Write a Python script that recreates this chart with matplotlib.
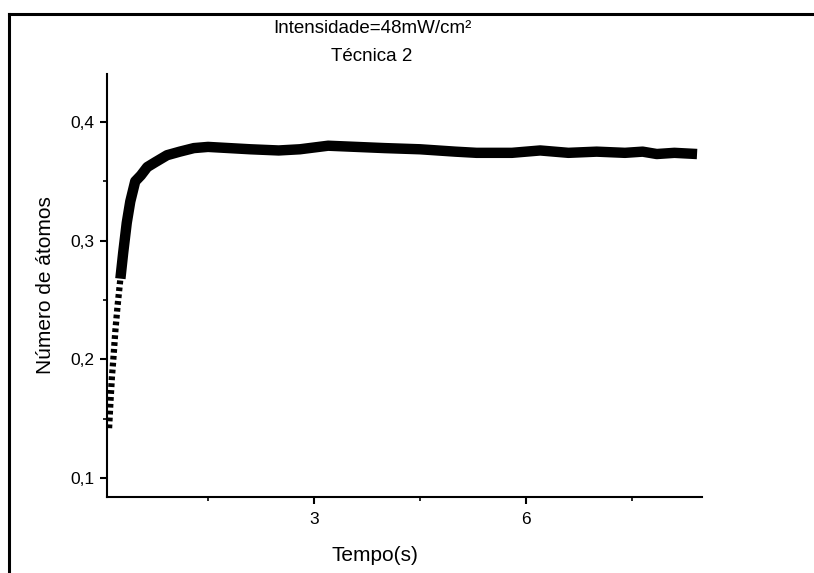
import matplotlib
matplotlib.use("Agg")
import matplotlib.pyplot as plt
from matplotlib.lines import Line2D
from matplotlib.ticker import MultipleLocator, FuncFormatter

plt.rcParams['font.family'] = ['Liberation Sans', 'DejaVu Sans']

# Loading curve: number of atoms vs time
tempo = [0.10, 0.12, 0.14, 0.16, 0.19, 0.22, 0.26, 0.30, 0.35, 0.40,
         0.47, 0.55, 0.64, 0.75, 0.92, 1.10, 1.30, 1.50, 1.80, 2.10,
         2.50, 2.80, 3.20, 3.60, 4.00, 4.50, 5.00, 5.30, 5.80, 6.20,
         6.60, 7.00, 7.40, 7.65, 7.85, 8.10, 8.42]
atomos = [0.142, 0.165, 0.185, 0.200, 0.225, 0.245, 0.268, 0.290, 0.315, 0.333,
          0.350, 0.355, 0.362, 0.366, 0.372, 0.375, 0.378, 0.379, 0.378, 0.377,
          0.376, 0.377, 0.380, 0.379, 0.378, 0.377, 0.375, 0.374, 0.374, 0.376,
          0.374, 0.375, 0.374, 0.375, 0.373, 0.374, 0.373]

titulo = "Intensidade=48mW/cm²"
subtitulo = "Técnica 2"

fig = plt.figure(figsize=(8.14, 5.73), dpi=100)
ax = fig.add_axes([0.1314, 0.1326, 0.731, 0.7382])

# sparse start drawn as dots, the rest as a thick trace
k = 6
ax.plot(tempo[:k + 1], atomos[:k + 1], color='black', lw=4.5,
        ls=(0, (0.6, 0.5)))
ax.plot(tempo[k:], atomos[k:], color='black', lw=7.5, solid_capstyle='butt',
        solid_joinstyle='round')

ax.set_xlim(0.07, 8.49)
ax.set_ylim(0.084, 0.4404)

ax.xaxis.set_major_locator(MultipleLocator(3))
ax.xaxis.set_minor_locator(MultipleLocator(1.5))
ax.yaxis.set_major_locator(MultipleLocator(0.1))
ax.yaxis.set_minor_locator(MultipleLocator(0.05))
ax.yaxis.set_major_formatter(FuncFormatter(lambda v, p: f"{v:.1f}".replace('.', ',')))
ax.xaxis.set_major_formatter(FuncFormatter(lambda v, p: f"{v:g}"))

for s in ['top', 'right']:
    ax.spines[s].set_visible(False)
for s in ['left', 'bottom']:
    ax.spines[s].set_linewidth(1.5)

ax.tick_params(which='major', direction='out', length=5, width=1.5,
               labelsize=12.5, pad=4)
ax.tick_params(which='minor', direction='out', length=3, width=1.2)
ax.tick_params(axis='x', which='major', pad=6)

ax.set_xlabel("Tempo(s)", fontsize=15)
ax.set_ylabel("Número de átomos", fontsize=15)
ax.xaxis.set_label_coords(0.45, -0.115)
ax.yaxis.set_label_coords(-0.088, 0.5)

fig.text(0.457, 0.95, titulo, ha='center', va='center', fontsize=13.5)
fig.text(0.457, 0.902, subtitulo, ha='center', va='center', fontsize=13.5)

# border around the page
fig.add_artist(Line2D([0.011, 0.011], [0.0, 0.976], color='black', lw=2.2,
                      transform=fig.transFigure))
fig.add_artist(Line2D([0.011, 1.0], [0.976, 0.976], color='black', lw=2.2,
                      transform=fig.transFigure))

fig.savefig("out.png", dpi=100)
